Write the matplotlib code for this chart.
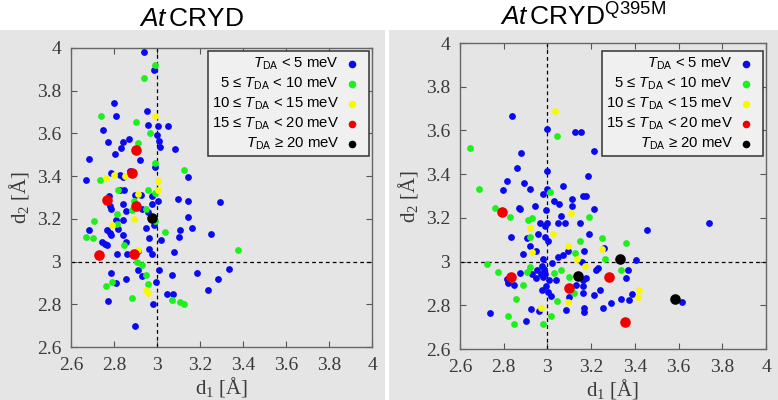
import matplotlib
matplotlib.use('Agg')
import matplotlib.pyplot as plt
import numpy as np
from matplotlib.patches import Rectangle

plt.rcParams['font.family'] = ['Liberation Serif', 'DejaVu Serif']
plt.rcParams['mathtext.fontset'] = 'custom'
plt.rcParams['mathtext.rm'] = 'Liberation Sans'
plt.rcParams['mathtext.it'] = 'Liberation Sans:italic'
plt.rcParams['mathtext.bf'] = 'Liberation Sans:bold'

# categories
labels = [r'$\mathit{T}_{\mathregular{DA}}$ < 5 meV',
          r'5 ≤ $\mathit{T}_{\mathregular{DA}}$ < 10 meV',
          r'10 ≤ $\mathit{T}_{\mathregular{DA}}$ < 15 meV',
          r'15 ≤ $\mathit{T}_{\mathregular{DA}}$ < 20 meV',
          r'$\mathit{T}_{\mathregular{DA}}$ ≥ 20 meV']
colors = ['#0a0af0', '#1ef01e', '#f8f800', '#f00000', '#000000']
sizes = [24, 24, 24, 58, 58]
titles = [r'$\mathit{At}\,$CRYD', r'$\mathit{At}\,$CRYD$^{\mathregular{Q395M}}$']
ticks = [2.6, 2.8, 3.0, 3.2, 3.4, 3.6, 3.8, 4.0]

# AtCRYD (d1, d2)
wt_blue = [(2.940, 3.981), (2.988, 3.896), (2.798, 3.744), (2.809, 3.682), (2.955, 3.705),
           (2.960, 3.640), (3.006, 3.634), (3.050, 3.633), (2.747, 3.616), (3.002, 3.592),
           (3.009, 3.566), (3.012, 3.536), (2.771, 3.558), (2.843, 3.558), (2.871, 3.572),
           (2.832, 3.531), (2.803, 3.502), (3.082, 3.527), (2.682, 3.479), (2.921, 3.476),
           (2.991, 3.443), (2.784, 3.417), (2.829, 3.406), (2.670, 3.380), (3.146, 3.394),
           (2.843, 3.397), (2.826, 3.337), (2.846, 3.335), (2.778, 3.306), (2.896, 3.313),
           (2.925, 3.310), (3.005, 3.282), (2.978, 3.305), (3.097, 3.291), (3.142, 3.285),
           (3.295, 3.279), (2.780, 3.260), (2.843, 3.271), (2.788, 3.246), (2.856, 3.235),
           (2.931, 3.246), (2.975, 3.271), (2.986, 3.170), (3.142, 3.209), (2.811, 3.193),
           (2.843, 3.193), (2.682, 3.149), (2.766, 3.148), (2.817, 3.154), (2.780, 3.133),
           (2.786, 3.125), (2.947, 3.158), (3.164, 3.157), (3.108, 3.148), (3.102, 3.117),
           (3.249, 3.129), (2.840, 3.123), (2.961, 3.110), (3.019, 3.101), (2.745, 3.092),
           (2.758, 3.080), (2.766, 3.076), (2.854, 3.092), (2.962, 3.057), (2.978, 3.035),
           (3.079, 3.044), (2.814, 3.035), (2.859, 3.035), (2.913, 2.960), (3.009, 2.960),
           (2.928, 2.931), (2.786, 2.948), (2.808, 2.898), (2.856, 2.919), (3.068, 2.936),
           (3.187, 2.948), (3.282, 2.920), (3.336, 2.965), (3.237, 2.869), (3.048, 2.848),
           (3.073, 2.848), (2.774, 2.817), (2.983, 2.800), (2.899, 2.700), (2.995, 2.906),
           (2.956, 3.232), (2.876, 3.425), (2.910, 3.050)]
wt_green = [(2.989, 3.922), (2.938, 3.860), (2.741, 3.680), (2.902, 3.655), (2.969, 3.601),
            (2.910, 3.554), (2.992, 3.462), (3.124, 3.428), (2.734, 3.381), (2.818, 3.336),
            (2.960, 3.337), (2.990, 3.320), (2.894, 3.283), (2.882, 3.240), (2.949, 3.248),
            (2.812, 3.223), (2.708, 3.192), (2.812, 3.178), (2.992, 3.190), (3.037, 3.140),
            (2.670, 3.115), (2.701, 3.110), (2.848, 3.076), (3.379, 3.056), (2.907, 2.998),
            (2.928, 2.984), (2.949, 2.937), (2.789, 2.904), (2.762, 2.887), (2.958, 2.894),
            (2.885, 2.828), (3.070, 2.822), (3.105, 2.811), (3.124, 2.803)]
wt_yellow = [(2.992, 3.682), (2.801, 3.407), (2.851, 3.400), (2.763, 3.389), (3.006, 3.379),
             (3.003, 3.337), (2.913, 3.318), (2.789, 3.173), (2.893, 3.198), (2.913, 3.053),
             (2.950, 2.868), (2.959, 2.854)]
wt_red = [(2.902, 3.524), (2.882, 3.415), (2.769, 3.289), (2.902, 3.259), (2.730, 3.033),
          (2.894, 3.034)]
wt_black = [(2.975, 3.206)]

# AtCRYD Q395M (d1, d2)
mut_blue = [(2.837, 3.667), (3.000, 3.608), (3.128, 3.594), (3.155, 3.591), (3.213, 3.506),
            (2.881, 3.495), (2.863, 3.430), (3.186, 3.392), (2.997, 3.414), (2.817, 3.369),
            (2.893, 3.358), (2.921, 3.331), (2.797, 3.328), (3.072, 3.347), (2.979, 3.308),
            (3.000, 3.331), (3.030, 3.277), (3.111, 3.288), (3.161, 3.299), (3.176, 3.302),
            (3.052, 3.264), (2.945, 3.253), (2.995, 3.236), (2.869, 3.247), (2.876, 3.241),
            (3.212, 3.242), (3.114, 3.254), (3.064, 3.209), (2.966, 3.178), (3.000, 3.175),
            (3.047, 3.175), (3.082, 3.178), (3.151, 3.178), (2.988, 3.163), (3.738, 3.175),
            (3.455, 3.145), (2.834, 3.111), (2.907, 3.107), (2.957, 3.126), (2.988, 3.114),
            (3.002, 3.094), (2.922, 3.072), (2.948, 3.049), (2.886, 3.034), (2.982, 3.012),
            (3.047, 3.023), (3.072, 3.030), (3.092, 3.047), (3.169, 3.050), (3.191, 3.125),
            (3.259, 3.061), (3.404, 3.006), (3.156, 2.998), (3.023, 2.992), (2.873, 2.948),
            (2.814, 2.919), (2.819, 2.904), (2.849, 2.893), (2.931, 2.942), (2.947, 2.924),
            (3.008, 2.916), (2.973, 2.869), (3.003, 2.863), (3.015, 2.843), (3.098, 2.840),
            (3.084, 2.779), (3.163, 2.916), (3.178, 2.927), (3.162, 2.886), (3.163, 2.858),
            (3.220, 2.962), (3.232, 2.969), (3.367, 2.962), (3.358, 2.924), (3.242, 2.870),
            (3.213, 2.845), (3.387, 2.851), (3.374, 2.822), (3.337, 2.829), (3.290, 2.810),
            (3.254, 2.787), (3.617, 2.813), (3.169, 2.787), (3.169, 2.767), (2.960, 2.772),
            (2.925, 2.782), (2.901, 2.727), (2.738, 2.763), (2.976, 2.980), (2.986, 2.965),
            (2.970, 2.942), (2.991, 2.944), (2.979, 2.931), (2.951, 2.962), (3.037, 2.916),
            (2.994, 2.886), (3.131, 2.893)]
mut_green = [(3.046, 3.574), (2.644, 3.521), (2.688, 3.334), (3.011, 3.320), (2.759, 3.244),
             (2.828, 3.203), (3.190, 3.206), (2.913, 3.190), (2.928, 3.198), (2.919, 3.111),
             (3.149, 3.094), (3.249, 3.110), (3.360, 3.084), (3.128, 3.040), (3.265, 3.012),
             (2.725, 2.988), (2.776, 2.953), (2.907, 2.954), (2.918, 2.977), (2.890, 2.893),
             (3.029, 2.947), (3.060, 2.962), (3.098, 2.928), (3.120, 2.858), (3.337, 2.962),
             (3.044, 2.820), (3.018, 2.753), (2.980, 2.714), (2.846, 2.713), (2.820, 2.751),
             (2.854, 2.829)]
mut_yellow = [(3.034, 3.690), (3.108, 3.221), (2.922, 3.152), (3.024, 3.125), (2.930, 3.043),
              (3.092, 3.072), (3.250, 3.058), (3.136, 3.011), (3.172, 2.982), (3.092, 2.814),
              (2.971, 2.787), (3.419, 2.870), (3.413, 2.837)]
mut_red = [(2.792, 3.227), (2.832, 2.930), (3.098, 2.878), (3.282, 2.931), (3.357, 2.723)]
mut_black = [(3.332, 3.014), (3.139, 2.933), (3.584, 2.829)]

panels = [[wt_blue, wt_green, wt_yellow, wt_red, wt_black],
          [mut_blue, mut_green, mut_yellow, mut_red, mut_black]]

fig = plt.figure(figsize=(7.78, 4.0), dpi=100)
bg = '#e6e5e6'
fig.patches.append(Rectangle((0, 0), 385 / 778, 370 / 400, transform=fig.transFigure,
                             facecolor=bg, edgecolor='none', zorder=-10))
fig.patches.append(Rectangle((389 / 778, 0), 389 / 778, 370 / 400, transform=fig.transFigure,
                             facecolor=bg, edgecolor='none', zorder=-10))

axes_pos = [[71 / 778, 1 - 347 / 400, 301 / 778, 299 / 400],
            [460 / 778, 1 - 349 / 400, 306 / 778, 306 / 400]]
title_x = [192 / 778, 583 / 778]
leg_anchor = [(1.0, 1.0), (1.0, 1 - 5 / 306)]

for i in range(2):
    ax = fig.add_axes(axes_pos[i])
    ax.set_facecolor(bg)
    for j in range(5):
        pts = np.array(panels[i][j])
        ax.scatter(pts[:, 0], pts[:, 1], s=sizes[j], c=colors[j], linewidths=0,
                   label=labels[j], zorder=3 + j)
    ax.axvline(3.0, color='black', lw=0.9, ls=(0, (3, 2.5)), zorder=2)
    ax.axhline(3.0, color='black', lw=0.9, ls=(0, (3, 2.5)), zorder=2)
    ax.set_xlim(2.6, 4.0)
    ax.set_ylim(2.6, 4.0)
    ax.set_xticks(ticks)
    ax.set_yticks(ticks)
    ax.set_xticklabels(['%g' % t for t in ticks])
    ax.set_yticklabels(['%g' % t for t in ticks])
    ax.tick_params(direction='in', length=4, width=0.8, color='#555555', top=True, right=True,
                   labelsize=14, labelcolor='#3a3a3a', pad=7)
    for sp in ax.spines.values():
        sp.set_color('#666666')
        sp.set_linewidth(1.0)
    ax.set_xlabel(r'd$_{\mathregular{1}}$ [Å]', fontsize=15, color='#3a3a3a', labelpad=1)
    ax.set_ylabel(r'd$_{\mathregular{2}}$ [Å]', fontsize=15, color='#3a3a3a', labelpad=4)

    leg = ax.legend(loc='upper right', bbox_to_anchor=leg_anchor[i], markerfirst=False,
                    prop={'family': ['Liberation Sans', 'DejaVu Sans'], 'size': 10.7},
                    fancybox=False, framealpha=1, facecolor='#f0f0f0', edgecolor='#333333',
                    borderaxespad=0.22, handlelength=1.6, handletextpad=0.08,
                    labelspacing=0.24, borderpad=0.3, scatterpoints=1)
    leg.get_frame().set_linewidth(1.1)
    for h in leg.legend_handles:
        h.set_sizes([30])
    for col in leg._legend_handle_box.get_children():
        col.align = 'right'

    fig.text(title_x[i], 1 - 26 / 400, titles[i], ha='center', va='baseline',
             fontsize=19, family=['Liberation Sans', 'DejaVu Sans'])

fig.savefig('out.png', dpi=100)
